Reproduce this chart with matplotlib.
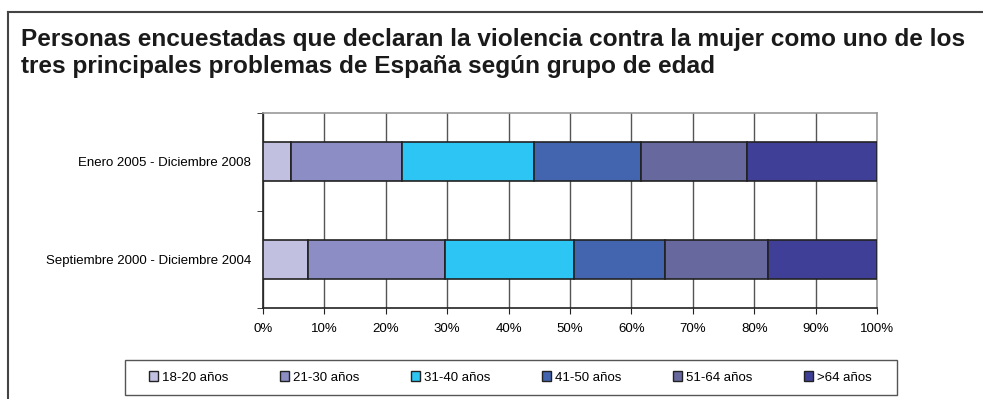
import matplotlib
matplotlib.use("Agg")
import matplotlib.pyplot as plt
from matplotlib.patches import Patch, Rectangle
from matplotlib.lines import Line2D
import numpy as np

plt.rcParams['font.family'] = ['Liberation Sans', 'DejaVu Sans']

periods = ["Septiembre 2000 - Diciembre 2004", "Enero 2005 - Diciembre 2008"]
groups = ["18-20 años", "21-30 años", "31-40 años", "41-50 años", "51-64 años", ">64 años"]
sep2000_dic2004 = [7.4, 22.2, 21.1, 14.8, 16.8, 17.7]
ene2005_dic2008 = [4.6, 18.1, 21.4, 17.5, 17.3, 21.1]
colors = ["#C1C0E0", "#8B8DC4", "#2DC5F4", "#4364AE", "#67699E", "#3F3F98"]
xticks = np.arange(0, 101, 10)
xticklabels = [f"{v}%" for v in xticks]

W, H = 983, 399
fig = plt.figure(figsize=(W / 100, H / 100), dpi=100)

# outer frame (left and top visible)
fig.add_artist(Line2D([8 / W, 8 / W], [0, 1 - 12 / H], color="#444444", lw=1.5, transform=fig.transFigure))
fig.add_artist(Line2D([8 / W, 1], [1 - 12 / H, 1 - 12 / H], color="#444444", lw=1.5, transform=fig.transFigure))

fig.text(21 / W, 1 - 28 / H,
         "Personas encuestadas que declaran la violencia contra la mujer como uno de los\n"
         "tres principales problemas de España según grupo de edad",
         fontsize=17.6, fontweight="bold", ha="left", va="top", linespacing=1.23,
         color="#1a1a1a")

ax = fig.add_axes([263 / W, 1 - 308 / H, 614 / W, 195 / H])
data = np.array([sep2000_dic2004, ene2005_dic2008])
ypos = np.arange(len(periods))
left = np.zeros(len(periods))
for i, g in enumerate(groups):
    ax.barh(ypos, data[:, i], left=left, height=0.4, color=colors[i],
            edgecolor="#222222", linewidth=1.2, label=g, zorder=3)
    left += data[:, i]

ax.set_xlim(0, 100)
ax.set_ylim(-0.5, 1.5)
ax.set_xticks(xticks)
ax.set_xticklabels(xticklabels, fontsize=9.5)
ax.set_yticks(ypos)
ax.set_yticklabels(periods, fontsize=9.5)
ax.set_yticks([-0.5, 0.5, 1.5], minor=True)
ax.tick_params(axis="y", which="major", length=0, pad=8.5)
ax.tick_params(axis="y", which="minor", length=4, direction="out", color="#222222")
ax.tick_params(axis="x", length=4, direction="out", color="#222222", pad=7)
ax.xaxis.grid(True, color="#555555", linewidth=1.0, zorder=0)
ax.set_axisbelow(True)
for s in ["left", "bottom"]:
    ax.spines[s].set_color("#222222")
    ax.spines[s].set_linewidth(1.2)
for s in ["top", "right"]:
    ax.spines[s].set_color("#999999")
    ax.spines[s].set_linewidth(1.2)

# legend frame
fig.add_artist(Rectangle((125 / W, 1 - 395 / H), 772 / W, 35 / H, transform=fig.transFigure,
                         facecolor="white", edgecolor="#555555", linewidth=1.0, zorder=1))
handles = [Patch(facecolor=c, edgecolor="#222222", linewidth=1.0) for c in colors]
leg = fig.legend(handles, groups, loc="center left",
                 bbox_to_anchor=(149 / W, 1 - 392 / H, 723 / W, 29 / H),
                 mode="expand", ncol=6, fontsize=9.5, frameon=False,
                 handlelength=0.7, handleheight=0.7, handletextpad=0.3,
                 borderaxespad=0, borderpad=0.0)
leg.set_zorder(2)

fig.savefig("out.png", dpi=100)
